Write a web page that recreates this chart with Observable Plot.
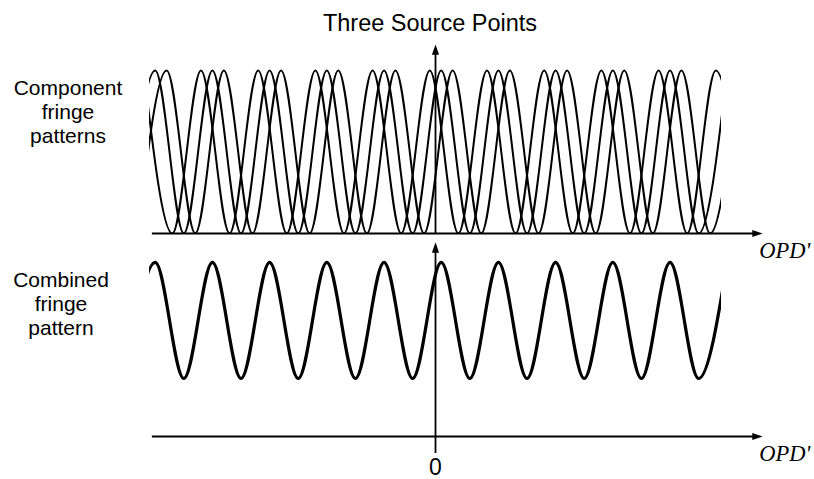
<!DOCTYPE html>
<html>
<head>
<meta charset="utf-8">
<script src="https://cdn.jsdelivr.net/npm/d3@7"></script>
<script src="https://cdn.jsdelivr.net/npm/@observablehq/plot@0.6"></script>
<style>
  body { margin: 0; background: #fff; }
  #fig { position: relative; width: 814px; height: 479px; font-family: "Liberation Sans", Arial, sans-serif; color: #000; }
  #fig .lbl { position: absolute; text-align: center; font-size: 21px; line-height: 24px; white-space: nowrap; }
  #fig .title { font-size: 23.5px; }
  #fig svg { position: absolute; left: 0; overflow: visible; }
</style>
</head>
<body>
<div id="fig">
  <div class="lbl title" style="left:230px;width:400px;top:11px">Three Source Points</div>
  <div class="lbl" style="left:0;width:136px;top:76px">Component<br>fringe<br>patterns</div>
  <div class="lbl" style="left:0;width:122px;top:268px">Combined<br>fringe<br>pattern</div>
</div>
<script>
// OPD' measured in fringe periods; the drawn window runs from -5 to +5.
const opdExtent = [-5, 5];
const axisLabel = "OPD'";
const zeroTick = [0];

// Fringe maxima and minima of the three component patterns (one each side past the window).
const sourceNames = ["source 1", "source 2", "source 3"];
const peaks1   = [-5.1, -4.1, -3.1, -2.1, -1.1, -0.1, 0.9, 1.9, 2.9, 3.9, 4.9];
const troughs1 = [-4.6, -3.6, -2.6, -1.6, -0.6, 0.4, 1.4, 2.4, 3.4, 4.4, 5.4];
const peaks2   = [-4.9, -3.9, -2.9, -1.9, -0.9, 0.1, 1.1, 2.1, 3.1, 4.1, 5.1];
const troughs2 = [-5.4, -4.4, -3.4, -2.4, -1.4, -0.4, 0.6, 1.6, 2.6, 3.6, 4.6];
const peaks3   = [-4.7, -3.7, -2.7, -1.7, -0.7, 0.3, 1.3, 2.3, 3.3, 4.3, 5.3];
const troughs3 = [-5.2, -4.2, -3.2, -2.2, -1.2, -0.2, 0.8, 1.8, 2.8, 3.8, 4.8];
const componentLevels = [0, 2];   // [minimum, maximum] intensity of each source

// Combined pattern: maxima line up with the middle source, with reduced visibility.
const combinedPeaks   = [-4.9, -3.9, -2.9, -1.9, -0.9, 0.1, 1.1, 2.1, 3.1, 4.1, 5.1];
const combinedTroughs = [-5.4, -4.4, -3.4, -2.4, -1.4, -0.4, 0.6, 1.6, 2.6, 3.6, 4.6];
const combinedLevels  = [1.5, 4.5];

function extrema(name, peaks, troughs, [lo, hi]) {
  return [
    ...peaks.map(opd => ({name, opd, level: hi})),
    ...troughs.map(opd => ({name, opd, level: lo}))
  ].sort((a, b) => a.opd - b.opd);
}

const components = [
  ...extrema(sourceNames[0], peaks1, troughs1, componentLevels),
  ...extrema(sourceNames[1], peaks2, troughs2, componentLevels),
  ...extrema(sourceNames[2], peaks3, troughs3, componentLevels)
];
const combined = extrema("combined", combinedPeaks, combinedTroughs, combinedLevels);

// Filled arrowheads, tip at the anchor point.
const arrowUp = {
  draw(ctx, size) {
    const r = Math.sqrt(size / Math.PI);
    ctx.moveTo(0, 0); ctx.lineTo(-0.9 * r, 2.6 * r); ctx.lineTo(0.9 * r, 2.6 * r); ctx.closePath();
  }
};
const arrowRight = {
  draw(ctx, size) {
    const r = Math.sqrt(size / Math.PI);
    ctx.moveTo(0, 0); ctx.lineTo(-2.6 * r, -0.9 * r); ctx.lineTo(-2.6 * r, 0.9 * r); ctx.closePath();
  }
};

const W = 814;
const axisW = 1.8;
const serif = "'Liberation Serif', 'Times New Roman', serif";
const xEnd = 5.72;      // arrow tip of the OPD' axis
const xStart = -4.95;

function axisMarks(yTip, yStem) {
  return [
    Plot.ruleY([0], {x1: xStart, x2: xEnd - 0.1, stroke: "black", strokeWidth: axisW}),
    Plot.ruleX([0], {y1: 0, y2: yStem, stroke: "black", strokeWidth: axisW}),
    Plot.dot([{opd: xEnd, level: 0}], {x: "opd", y: "level", symbol: arrowRight, r: 4, fill: "black", stroke: "none"}),
    Plot.dot([{opd: 0, level: yTip}], {x: "opd", y: "level", symbol: arrowUp, r: 4, fill: "black", stroke: "none"}),
    Plot.text([{opd: 5.66, level: 0, label: axisLabel}], {
      x: "opd", y: "level", text: "label", dy: 17, textAnchor: "start",
      fontSize: 22.5, fontStyle: "italic", fontFamily: serif, fill: "black"
    })
  ];
}

const upper = Plot.plot({
  width: W, height: 240,
  marginLeft: 149, marginRight: 93, marginTop: 65.9, marginBottom: 7,
  x: {domain: opdExtent, axis: null},
  y: {domain: [0, 2.05], axis: null},
  style: {background: "transparent", overflow: "visible", color: "black", fontFamily: "'Liberation Sans', Arial, sans-serif"},
  marks: [
    Plot.line(components, {x: "opd", y: "level", z: "name", curve: "monotone-x", stroke: "black", strokeWidth: 2, strokeLinejoin: "round", clip: true}),
    ...axisMarks(2.32, 2.2)
  ]
});

const lower = Plot.plot({
  width: W, height: 239,
  marginLeft: 149, marginRight: 93, marginTop: 18.1, marginBottom: 43,
  x: {domain: opdExtent, axis: null},
  y: {domain: [0, 4.6], axis: null},
  style: {background: "transparent", overflow: "visible", color: "black", fontFamily: "'Liberation Sans', Arial, sans-serif"},
  marks: [
    Plot.line(combined, {x: "opd", y: "level", curve: "monotone-x", stroke: "black", strokeWidth: 3.2, strokeLinejoin: "round", clip: true}),
    Plot.axisX({ticks: zeroTick, tickSize: 17, tickPadding: 5, fontSize: 23, strokeWidth: axisW, label: null, tickFormat: d => String(d)}),
    ...axisMarks(5.02, 4.85)
  ]
});

const fig = document.getElementById("fig");
upper.style.top = "0px";
lower.style.top = "240px";
fig.append(upper, lower);
</script>
</body>
</html>
